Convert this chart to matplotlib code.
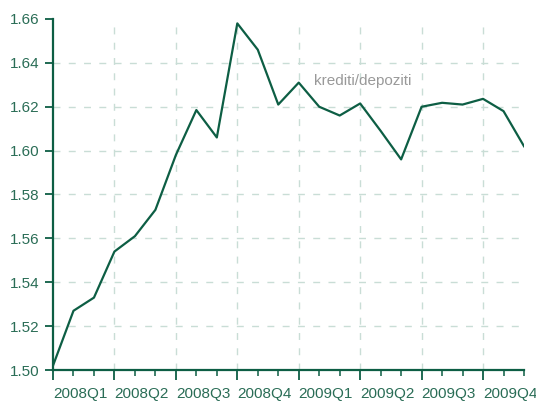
import matplotlib
matplotlib.use("Agg")
import matplotlib.pyplot as plt

months = list(range(24))
values = [1.502, 1.527, 1.533, 1.554, 1.561, 1.573, 1.598, 1.6185, 1.606, 1.658,
          1.646, 1.621, 1.631, 1.620, 1.616, 1.6215, 1.609, 1.596, 1.620, 1.6218,
          1.621, 1.6236, 1.618, 1.602]
quarter_labels = ["2008Q1", "2008Q2", "2008Q3", "2008Q4", "2009Q1", "2009Q2", "2009Q3", "2009Q4"]
y_ticks = [1.50, 1.52, 1.54, 1.56, 1.58, 1.60, 1.62, 1.64, 1.66]
series_label = "krediti/depoziti"

plt.rcParams['font.family'] = ['Liberation Sans', 'DejaVu Sans']

GREEN = "#0d5e44"
TICK = "#2a6d56"
GRID = "#c9ddd6"

fig = plt.figure(figsize=(5.36, 4.03), dpi=100)
ax = fig.add_axes([53/536, 1-370/403, (524-53)/536, (370-19)/403])

for y in y_ticks[1:-1]:
    ax.axhline(y, color=GRID, lw=1.0, ls=(0, (5, 6)), zorder=1)
for x in months[3::3]:
    ax.axvline(x, color=GRID, lw=1.0, ls=(0, (5, 6)), zorder=1)

ax.plot(months, values, color=GREEN, lw=1.6, zorder=3)
ax.text(12.75, 1.6318, series_label, color="#999999", fontsize=11, va="center", ha="left")

ax.set_xlim(0, 23)
ax.set_ylim(1.50, 1.66)
ax.set_yticks(y_ticks)
ax.set_yticklabels([f"{v:.2f}" for v in y_ticks])
ax.set_xticks(months[::3])
ax.set_xticklabels(quarter_labels, ha="left")
ax.set_xticks(months, minor=True)

for s in ["top", "right"]:
    ax.spines[s].set_visible(False)
for s in ["left", "bottom"]:
    ax.spines[s].set_color(GREEN)
    ax.spines[s].set_linewidth(1.6)

ax.tick_params(axis="both", which="major", color=GREEN, width=1.3, length=6,
               labelcolor=TICK, labelsize=11)
ax.tick_params(axis="x", which="minor", color=GREEN, width=1.1, length=4)
ax.tick_params(axis="x", which="major", pad=5, length=7)
ax.tick_params(axis="y", which="major", pad=4)

fig.savefig("out.png", dpi=100)
